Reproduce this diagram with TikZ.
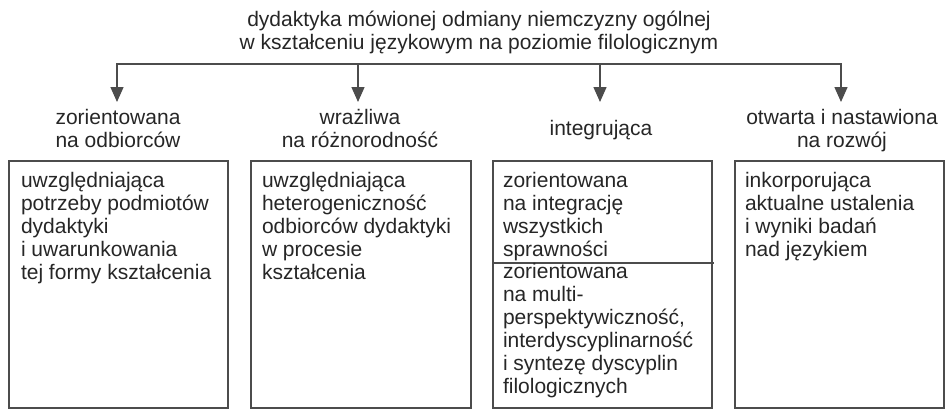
\documentclass[tikz,border=0pt]{standalone}
\usepackage{fontspec}
\setmainfont{Liberation Sans}
\usetikzlibrary{arrows.meta}
\newcommand\mytopstrut{\rule{0pt}{16pt}}
\begin{document}
\begin{tikzpicture}[x=1pt,y=-1pt,
  txt/.style={inner sep=0pt, outer sep=0pt, text=black!85, font=\fontsize{21}{23}\selectfont},
  boxtxt/.style={txt, anchor=north west, align=left},
  head/.style={txt, anchor=north, align=center},
  panel/.style={draw=black!70, line width=1.5pt, inner sep=0pt, minimum height=247pt},
  conn/.style={draw=black!70, line width=1.4pt, line join=miter},
  tip/.style={-{Triangle[width=13pt,length=15pt]}}
]
\useasboundingbox (0,0) rectangle (945,410);

% title
\node[head] (title) at (479,10) {\mytopstrut dydaktyka mówionej odmiany niemczyzny ogólnej\\w kształceniu językowym na poziomie filologicznym};

% connector junctions and tips
\coordinate (j1) at (117,64);
\coordinate (j2) at (358,64);
\coordinate (j3) at (600,64);
\coordinate (j4) at (841,64);
\coordinate (t1) at (117,102);
\coordinate (t2) at (358,102);
\coordinate (t3) at (600,102);
\coordinate (t4) at (841,102);

\draw[conn] (j2) -- (j3);
\draw[conn,tip] (j2) -- (j1) -- (t1);
\draw[conn,tip] (j3) -- (j4) -- (t4);
\draw[conn,tip] (j2) -- (t2);
\draw[conn,tip] (j3) -- (t3);

% headings
\node[head] (h1) at (118,108.5) {\mytopstrut zorientowana\\na odbiorców};
\node[head] (h2) at (360,108.5) {\mytopstrut wrażliwa\\na różnorodność};
\node[head] (h3) at (601,119) {\mytopstrut integrująca};
\node[head] (h4) at (842,108.5) {\mytopstrut otwarta i nastawiona\\na rozwój};

% panels
\node[panel, minimum width=219pt] (b1) at (118.5,284.5) {};
\node[panel, minimum width=220pt] (b2) at (361,284.5) {};
\node[panel, minimum width=219pt] (b3) at (602.5,284.5) {};
\node[panel, minimum width=209pt] (b4) at (839.5,284.5) {};

% divider in panel 3
\coordinate (d1) at (493,263);
\coordinate (d2) at (714,263);
\draw[conn] (d1) -- (d2);

% panel texts
\node[boxtxt] (x1) at (21,171) {\mytopstrut uwzględniająca\\potrzeby podmiotów\\dydaktyki\\i uwarunkowania\\tej formy kształcenia};
\node[boxtxt] (x2) at (262,171) {\mytopstrut uwzględniająca\\heterogeniczność\\odbiorców dydaktyki\\w procesie\\kształcenia};
\node[boxtxt] (x3a) at (503,171) {\mytopstrut zorientowana\\na integrację\\wszystkich\\sprawności};
\node[boxtxt] (x3b) at (503,262) {\mytopstrut zorientowana\\na multi-\\perspektywiczność,\\interdyscyplinarność\\i syntezę dyscyplin\\filologicznych};
\node[boxtxt] (x4) at (745,171) {\mytopstrut inkorporująca\\aktualne ustalenia\\i wyniki badań\\nad językiem};
\end{tikzpicture}
\end{document}
